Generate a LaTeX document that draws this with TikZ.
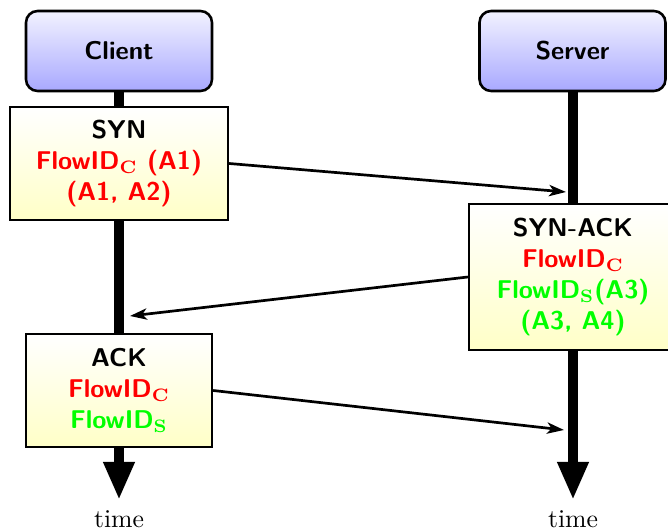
\documentclass[tikz,border=0pt]{standalone}
\usetikzlibrary{arrows.meta}
\begin{document}
\begin{tikzpicture}[x=0.389pt,y=-0.389pt,
  actor/.style={draw=black, line width=1pt, rounded corners=4.5pt,
    top color=blue!5, bottom color=blue!34, font=\sffamily\bfseries,
    minimum width=186*0.389pt, minimum height=80*0.389pt, inner sep=0pt},
  msgbox/.style={draw=black, line width=0.9pt, top color=white, bottom color=yellow!22,
    font=\sffamily\bfseries, align=center, inner sep=0pt},
  lifeline/.style={line width=3.9pt, -{Triangle[length=14.8pt,width=11.3pt]}},
  msg/.style={line width=1.05pt, -{Stealth[length=6.6pt,width=4.4pt,inset=1.8pt]}},
  timelbl/.style={font=\normalsize}
]
\useasboundingbox (0,0) rectangle (668,531);
% actors
\node[actor] (client) at (119,51) {Client};
\node[actor] (server) at (572.5,51) {Server};
% lifelines
\coordinate (cend) at (119,500);
\coordinate (send) at (573,500);
\draw[lifeline] (client.south) -- (cend);
\draw[lifeline] (server.south -| send) -- (send);
% messages
\node[msgbox, minimum width=218*0.389pt, minimum height=113*0.389pt] (syn) at (119,163.5)
  {SYN\\ \textcolor{red}{FlowID$_{\mathbf{C}}$ (A1)}\\ \textcolor{red}{(A1, A2)}};
\node[msgbox, minimum width=208*0.389pt, minimum height=146*0.389pt] (synack) at (573,277)
  {SYN-ACK\\ \textcolor{red}{FlowID$_{\mathbf{C}}$}\\ \textcolor{green}{FlowID$_{\mathbf{S}}$(A3)}\\ \textcolor{green}{(A3, A4)}};
\node[msgbox, minimum width=186*0.389pt, minimum height=113*0.389pt] (ack) at (119,390.5)
  {ACK\\ \textcolor{red}{FlowID$_{\mathbf{C}}$}\\ \textcolor{green}{FlowID$_{\mathbf{S}}$}};
% message arrows
\coordinate (synend) at (566,192);
\coordinate (synackend) at (130,316);
\coordinate (ackend) at (564,430);
\draw[msg] (syn.east) -- (synend);
\draw[msg] (synack.west) -- (synackend);
\draw[msg] (ack.east) -- (ackend);
% time labels
\node[timelbl] (t1) at (119,519) {time};
\node[timelbl] (t2) at (573,519) {time};
\end{tikzpicture}
\end{document}
